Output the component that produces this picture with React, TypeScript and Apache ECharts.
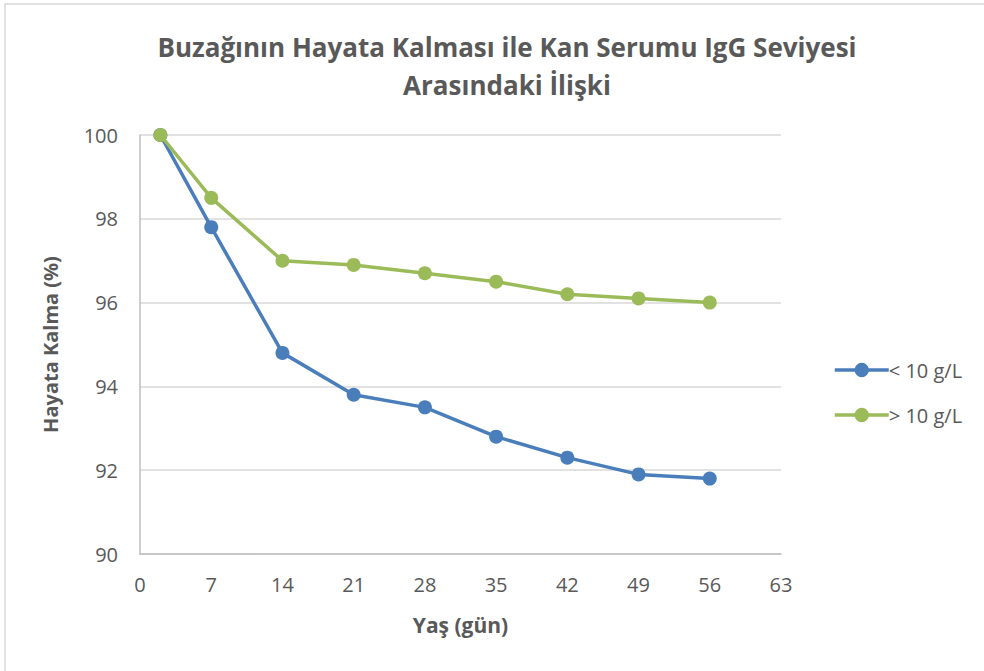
import React, { useEffect, useRef } from "react";
import * as echarts from "echarts";

const days = [2, 7, 14, 21, 28, 35, 42, 49, 56];
const lowIgG = [100, 97.8, 94.8, 93.8, 93.5, 92.8, 92.3, 91.9, 91.8];
const highIgG = [100, 98.5, 97.0, 96.9, 96.7, 96.5, 96.2, 96.1, 96.0];
const seriesNames = ["< 10 g/L", "> 10 g/L"];
const titleText = "Buzağının Hayata Kalması ile Kan Serumu IgG Seviyesi\nArasındaki İlişki";
const xName = "Yaş (gün)";
const yName = "Hayata Kalma (%)";

const FONT = "'Open Sans', 'Noto Sans', sans-serif";

export default function App() {
  const ref = useRef<HTMLDivElement>(null);
  useEffect(() => {
    const chart = echarts.init(ref.current!, null, { renderer: "svg" });
    const mk = (arr: number[]) => days.map((d, i) => [d, arr[i]]);
    chart.setOption({
      animation: false,
      backgroundColor: "#ffffff",
      textStyle: { fontFamily: FONT },
      title: {
        text: titleText,
        left: 502,
        textAlign: "center",
        top: 23,
        textStyle: {
          fontFamily: FONT,
          fontSize: 26,
          fontWeight: "bold",
          color: "#595959",
          lineHeight: 38,
        },
      },
      graphic: [
        {
          type: "rect",
          shape: { x: 5, y: 4, width: 1000, height: 700 },
          style: { fill: "none", stroke: "#d9d9d9", lineWidth: 1.5 },
          silent: true,
        },
      ],
      legend: {
        orient: "vertical",
        left: 828,
        top: 355,
        itemGap: 25,
        itemWidth: 54,
        itemHeight: 18,
        lineStyle: { width: 3.5 },
        textStyle: { fontFamily: FONT, fontSize: 20, color: "#595959", padding: [0, 0, 0, -5] },
        data: seriesNames,
      },
      grid: { left: 140, right: 203, top: 135, bottom: 117, containLabel: false },
      xAxis: {
        type: "value",
        min: 0,
        max: 63,
        interval: 7,
        name: xName,
        nameLocation: "middle",
        nameGap: 60,
        nameTextStyle: { fontFamily: FONT, fontSize: 21, fontWeight: "bold", color: "#595959" },
        axisLine: { show: true, lineStyle: { color: "#bfbfbf", width: 1.5 } },
        axisTick: { show: false },
        splitLine: { show: false },
        axisLabel: { margin: 20, fontFamily: FONT, fontSize: 20, color: "#595959" },
      },
      yAxis: {
        type: "value",
        min: 90,
        max: 100,
        interval: 2,
        name: yName,
        nameLocation: "middle",
        nameRotate: 90,
        nameGap: 80,
        nameTextStyle: { fontFamily: FONT, fontSize: 20, fontWeight: "bold", color: "#595959" },
        axisLine: { show: true, lineStyle: { color: "#bfbfbf", width: 1.5 } },
        axisTick: { show: false },
        splitLine: { show: true, lineStyle: { color: "#d9d9d9", width: 1.5 } },
        axisLabel: { margin: 22, fontFamily: FONT, fontSize: 20, color: "#595959" },
      },
      series: [
        {
          name: seriesNames[0],
          type: "line",
          data: mk(lowIgG),
          symbol: "circle",
          symbolSize: 14,
          color: "#4a7ebb",
          lineStyle: { width: 3.5, color: "#4a7ebb" },
          itemStyle: { color: "#4a7ebb" },
          z: 2,
        },
        {
          name: seriesNames[1],
          type: "line",
          data: mk(highIgG),
          symbol: "circle",
          symbolSize: 14,
          color: "#9bbb59",
          lineStyle: { width: 3.5, color: "#9bbb59" },
          itemStyle: { color: "#9bbb59" },
          z: 3,
        },
      ],
    });
    return () => chart.dispose();
  }, []);
  return (
    <div
      ref={ref}
      style={{ position: "fixed", left: 0, top: 0, width: 984, height: 671 }}
    />
  );
}
